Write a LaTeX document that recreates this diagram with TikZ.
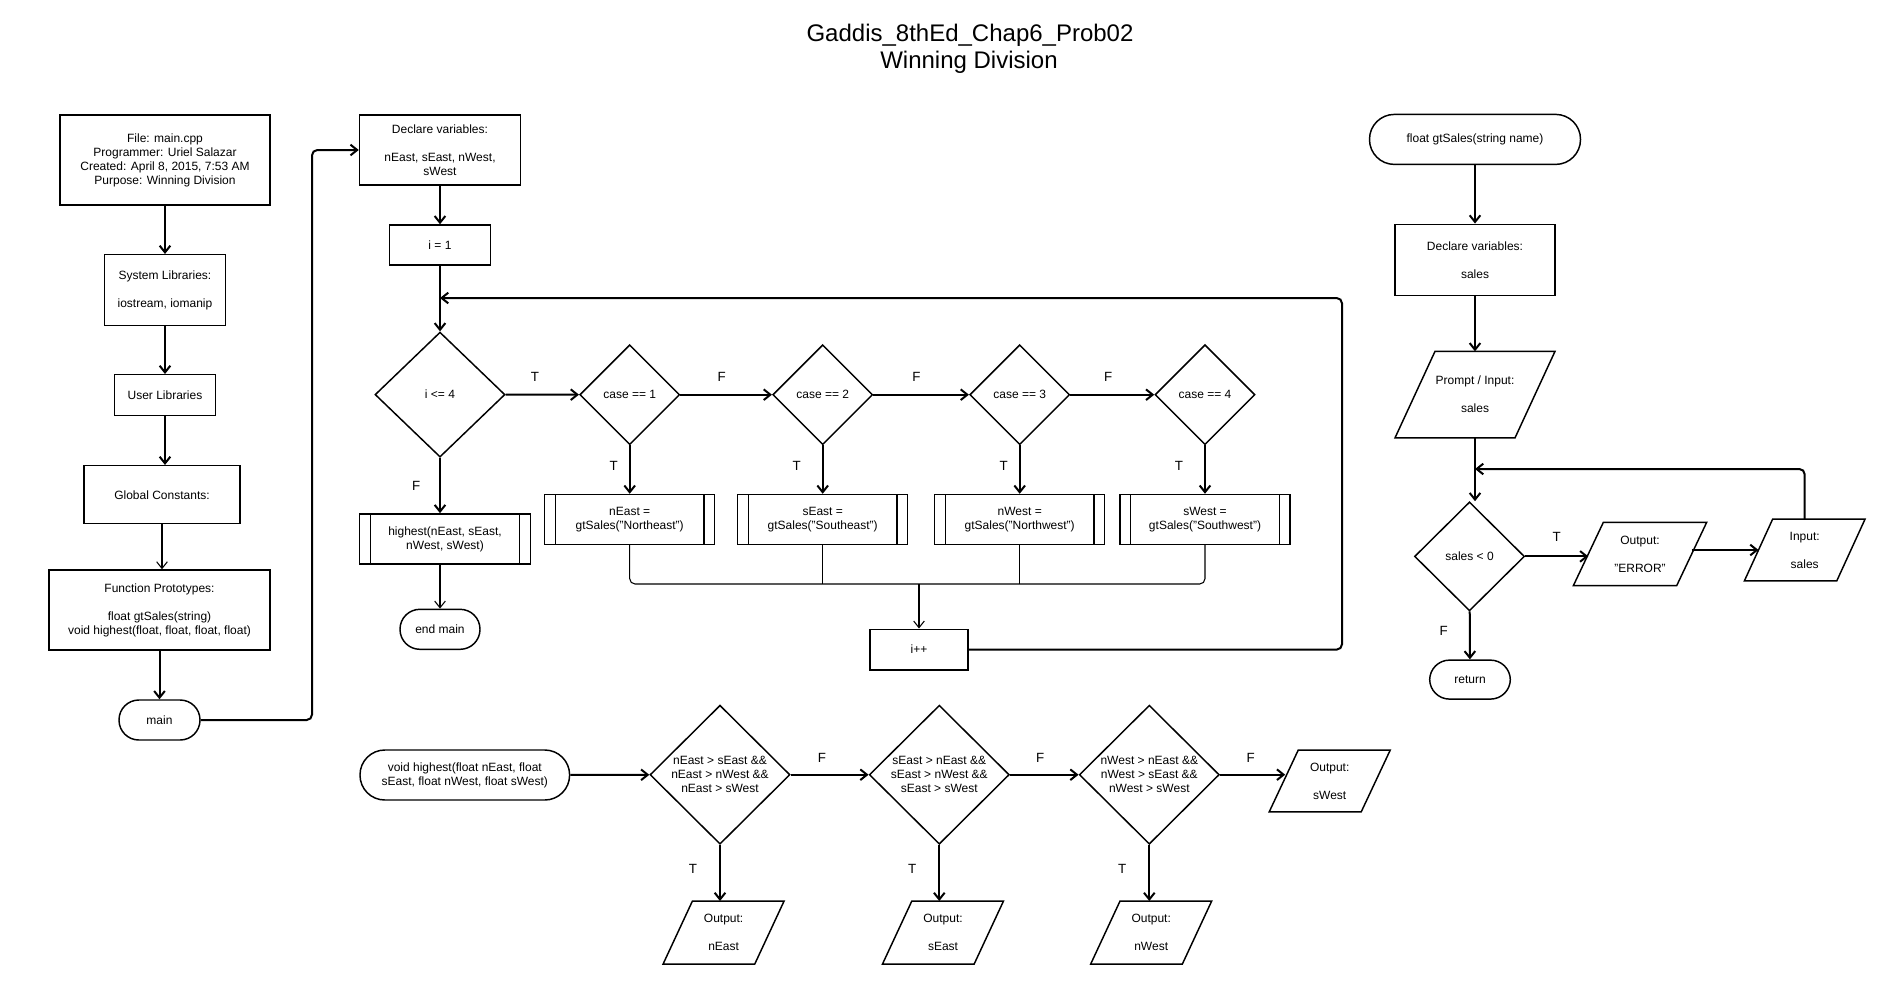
\documentclass[tikz,border=0pt]{standalone}
\usepackage{fontspec}
\setmainfont{Liberation Sans}
\usetikzlibrary{arrows.meta, positioning, shapes.geometric}

\begin{document}
\begin{tikzpicture}[>={Straight Barb[length=5pt,width=8pt]}, x=0.75pt, y=-0.75pt,
    font=\fontsize{9}{10.5}\selectfont]
  \tikzset{
    proc/.style={rectangle, draw=black, line width=1.1pt, align=center, inner sep=1pt},
    sub/.style={proc, path picture={
        \draw[line width=1.1pt] ([xshift=7.9pt]path picture bounding box.north west) -- ([xshift=7.9pt]path picture bounding box.south west);
        \draw[line width=1.1pt] ([xshift=-7.9pt]path picture bounding box.north east) -- ([xshift=-7.9pt]path picture bounding box.south east);}},
    term/.style={proc, rounded corners=14.9pt},
    dec/.style={diamond, draw=black, line width=1.1pt, align=center, inner sep=0pt},
    io/.style={rectangle, align=center, inner sep=1pt, outer sep=0pt},
    lbl/.style={font=\fontsize{10}{12}\selectfont, inner sep=0pt},
    heading/.style={font=\fontsize{18}{20}\selectfont, anchor=base},
    flow/.style={->, line width=1.5pt},
    thinflow/.style={->, line width=0.8pt}
  }

  \useasboundingbox (0,0) rectangle (1888,983);

  \node[heading] (ttl) at (970,41.7) {Gaddis\_8thEd\_Chap6\_Prob02};
  \node[heading] (subttl) at (969,68.3) {Winning Division};

  \node[proc, minimum width=157.5pt, minimum height=67.5pt] (file) at (165,160)
    {File: main.cpp\\Programmer: Uriel Salazar\\Created: April 8, 2015, 7:53 AM\\Purpose: Winning Division};
  \node[proc, minimum width=90.75pt, minimum height=53pt] (syslib) at (165,290) {System Libraries:\\[10.5pt]iostream, iomanip};
  \node[proc, minimum width=75.75pt, minimum height=30.4pt] (userlib) at (165,395) {User Libraries};
  \node[proc, minimum width=117pt, minimum height=43.5pt] (globals) at (162,494.7) {Global Constants:};
  \node[proc, minimum width=165.75pt, minimum height=60pt] (protos) at (159.5,610)
    {Function Prototypes:\\[10.5pt]float gtSales(string)\\void highest(float, float, float, float)};
  \node[term, minimum width=60.75pt, minimum height=30pt] (main) at (159.5,720) {main};
  \coordinate (mainturn) at (312,720);

  \node[proc, minimum width=120.75pt, minimum height=52.5pt] (decl) at (440,150) {Declare variables:\\[10.5pt]nEast, sEast, nWest,\\sWest};
  \node[proc, minimum width=75.75pt, minimum height=30pt] (init) at (440,245) {i = 1};
  \node[dec, minimum width=97.5pt, minimum height=93.75pt] (loop) at (440,394.6) {i <= 4};
  \node[dec, minimum width=75pt, minimum height=75pt] (c1) at (629.7,394.7) {case == 1};
  \node[dec, minimum width=75pt, minimum height=75pt] (c2) at (822.7,394.7) {case == 2};
  \node[dec, minimum width=75pt, minimum height=75pt] (c3) at (1019.7,394.7) {case == 3};
  \node[dec, minimum width=75pt, minimum height=75pt] (c4) at (1205,394.7) {case == 4};

  \node[sub, minimum width=127.5pt, minimum height=37.5pt] (a1) at (629.7,519.5) {nEast =\\gtSales("Northeast")};
  \node[sub, minimum width=127.5pt, minimum height=37.5pt] (a2) at (822.7,519.5) {sEast =\\gtSales("Southeast")};
  \node[sub, minimum width=127.5pt, minimum height=37.5pt] (a3) at (1019.7,519.5) {nWest =\\gtSales("Northwest")};
  \node[sub, minimum width=127.5pt, minimum height=37.5pt] (a4) at (1205,519.5) {sWest =\\gtSales("Southwest")};
  \node[sub, minimum width=127.9pt, minimum height=37.7pt] (hcall) at (445,539) {highest(nEast, sEast,\\nWest, sWest)};
  \node[term, minimum width=60pt, minimum height=30pt] (endmain) at (440,629.3) {end main};
  \node[proc, minimum width=73.5pt, minimum height=30.5pt] (inc) at (919,649.6) {i++};
  \coordinate (join) at (919,584);
  \coordinate (loopcorner) at (1342,298);
  \coordinate (looptop) at (440,298);

  \node[term, rounded corners=18.6pt, minimum width=158.25pt, minimum height=37.5pt] (gts) at (1475,139.4) {float gtSales(string name)};
  \node[proc, minimum width=120pt, minimum height=53.25pt] (sdecl) at (1475,259.8) {Declare variables:\\[10.5pt]sales};
  \node[io, minimum width=120pt, minimum height=64.9pt] (prompt) at (1475,394.6) {Prompt / Input:\\[10.5pt]sales};
  \node[dec, minimum width=82.5pt, minimum height=81.75pt] (chk) at (1469.5,556.4) {sales < 0};
  \node[io, minimum width=100pt, minimum height=47.5pt] (err) at (1640,554) {Output:\\[10.5pt]"ERROR"};
  \node[io, minimum width=90.5pt, minimum height=46.3pt] (inp) at (1804.7,550) {Input:\\[10.5pt]sales};
  \node[term, minimum width=60.5pt, minimum height=29.25pt] (ret) at (1470,679.6) {return};
  \coordinate (salesloop) at (1475,469);

  \node[term, rounded corners=18.6pt, minimum width=157.2pt, minimum height=37.5pt] (vh) at (464.8,775)
    {void highest(float nEast, float\\sEast, float nWest, float sWest)};
  \node[dec, minimum width=105pt, minimum height=104.25pt] (h1) at (720,774.7) {nEast > sEast \&\&\\nEast > nWest \&\&\\nEast > sWest};
  \node[dec, minimum width=105pt, minimum height=104.25pt] (h2) at (939.3,774.7) {sEast > nEast \&\&\\sEast > nWest \&\&\\sEast > sWest};
  \node[dec, minimum width=105pt, minimum height=104.25pt] (h3) at (1149.3,774.7) {nWest > nEast \&\&\\nWest > sEast \&\&\\nWest > sWest};
  \node[io, minimum width=90.75pt, minimum height=47.25pt] (o1) at (723.6,932.5) {Output:\\[10.5pt]nEast};
  \node[io, minimum width=90.75pt, minimum height=47.25pt] (o2) at (943,932.5) {Output:\\[10.5pt]sEast};
  \node[io, minimum width=90.75pt, minimum height=47.25pt] (o3) at (1151.2,932.5) {Output:\\[10.5pt]nWest};
  \node[io, minimum width=90.75pt, minimum height=46.3pt] (o4) at (1329.7,781) {Output:\\[10.5pt]sWest};

  \foreach \n/\s in {prompt/30pt, err/22.5pt, inp/21.2pt, o1/22pt, o2/22pt, o3/22pt, o4/21.75pt}
    \draw[line width=1.1pt] ([xshift=\s]\n.north west) -- (\n.north east)
      -- ([xshift=-\s]\n.south east) -- (\n.south west) -- cycle;

  \path[flow] (file) edge (syslib);
  \path[flow] (syslib) edge (userlib);
  \draw[flow] (userlib) -- (userlib |- globals.north);
  \draw[thinflow] (globals) -- (globals |- protos.north);
  \path[flow] (protos) edge (main);
  \draw[flow, rounded corners=4pt] (main.east) -- (mainturn) |- (decl.west);

  \path[flow] (decl) edge (init);
  \path[flow] (init) edge (loop);
  \path[flow] (loop) edge node[lbl, above=9pt, pos=.4] {T} (c1);
  \path[flow] (c1) edge node[lbl, above=9pt, pos=.45] {F} (c2);
  \path[flow] (c2) edge node[lbl, above=9pt, pos=.45] {F} (c3);
  \path[flow] (c3) edge node[lbl, above=9pt, pos=.45] {F} (c4);
  \draw[flow] (loop.south) -- node[lbl, left=14pt] {F} (loop.south |- hcall.north);
  \draw[thinflow] (hcall.south -| endmain) -- (endmain);

  \path[flow] (c1) edge node[lbl, left=8.2pt, pos=.43] {T} (a1);
  \path[flow] (c2) edge node[lbl, left=15.7pt, pos=.43] {T} (a2);
  \path[flow] (c3) edge node[lbl, left=8.2pt, pos=.43] {T} (a3);
  \path[flow] (c4) edge node[lbl, left=15.7pt, pos=.43] {T} (a4);

  \draw[line width=0.8pt, rounded corners=4pt] (a1.south) |- (join) -| (a4.south);
  \draw[line width=0.8pt] (a2.south) -- (a2.south |- join);
  \draw[line width=0.8pt] (a3.south) -- (a3.south |- join);
  \draw[thinflow] (join) -- (inc);
  \draw[flow, rounded corners=4pt] (inc.east) -| (loopcorner) -- (looptop);

  \path[flow] (gts) edge (sdecl);
  \path[flow] (sdecl) edge (prompt);
  \draw[flow] (prompt.south) -- (prompt.south |- chk.north);
  \draw[flow] (chk.east) -- node[lbl, above=10.6pt] {T} ([xshift=11.25pt]err.west |- chk.east);
  \draw[flow] ([xshift=-11.25pt]err.east |- inp.west) -- ([xshift=10.6pt]inp.west);
  \draw[flow, rounded corners=4pt] (inp.north) |- (salesloop);
  \path[flow] (chk) edge node[lbl, left=15.7pt, pos=.4] {F} (ret);

  \path[flow] (vh) edge (h1);
  \path[flow] (h1) edge node[lbl, above=8.7pt, pos=.4] {F} (h2);
  \path[flow] (h2) edge node[lbl, above=8.7pt, pos=.44] {F} (h3);
  \draw[flow] (h3.east) -- node[lbl, above=8.7pt, pos=.47] {F} ([xshift=12pt]o4.west |- h3.east);
  \draw[flow] (h1.south) -- node[lbl, left=16.5pt, pos=.42] {T} (h1.south |- o1.north);
  \draw[flow] (h2.south) -- node[lbl, left=16.5pt, pos=.42] {T} (h2.south |- o2.north);
  \draw[flow] (h3.south) -- node[lbl, left=16.5pt, pos=.42] {T} (h3.south |- o3.north);

\end{tikzpicture}
\end{document}
